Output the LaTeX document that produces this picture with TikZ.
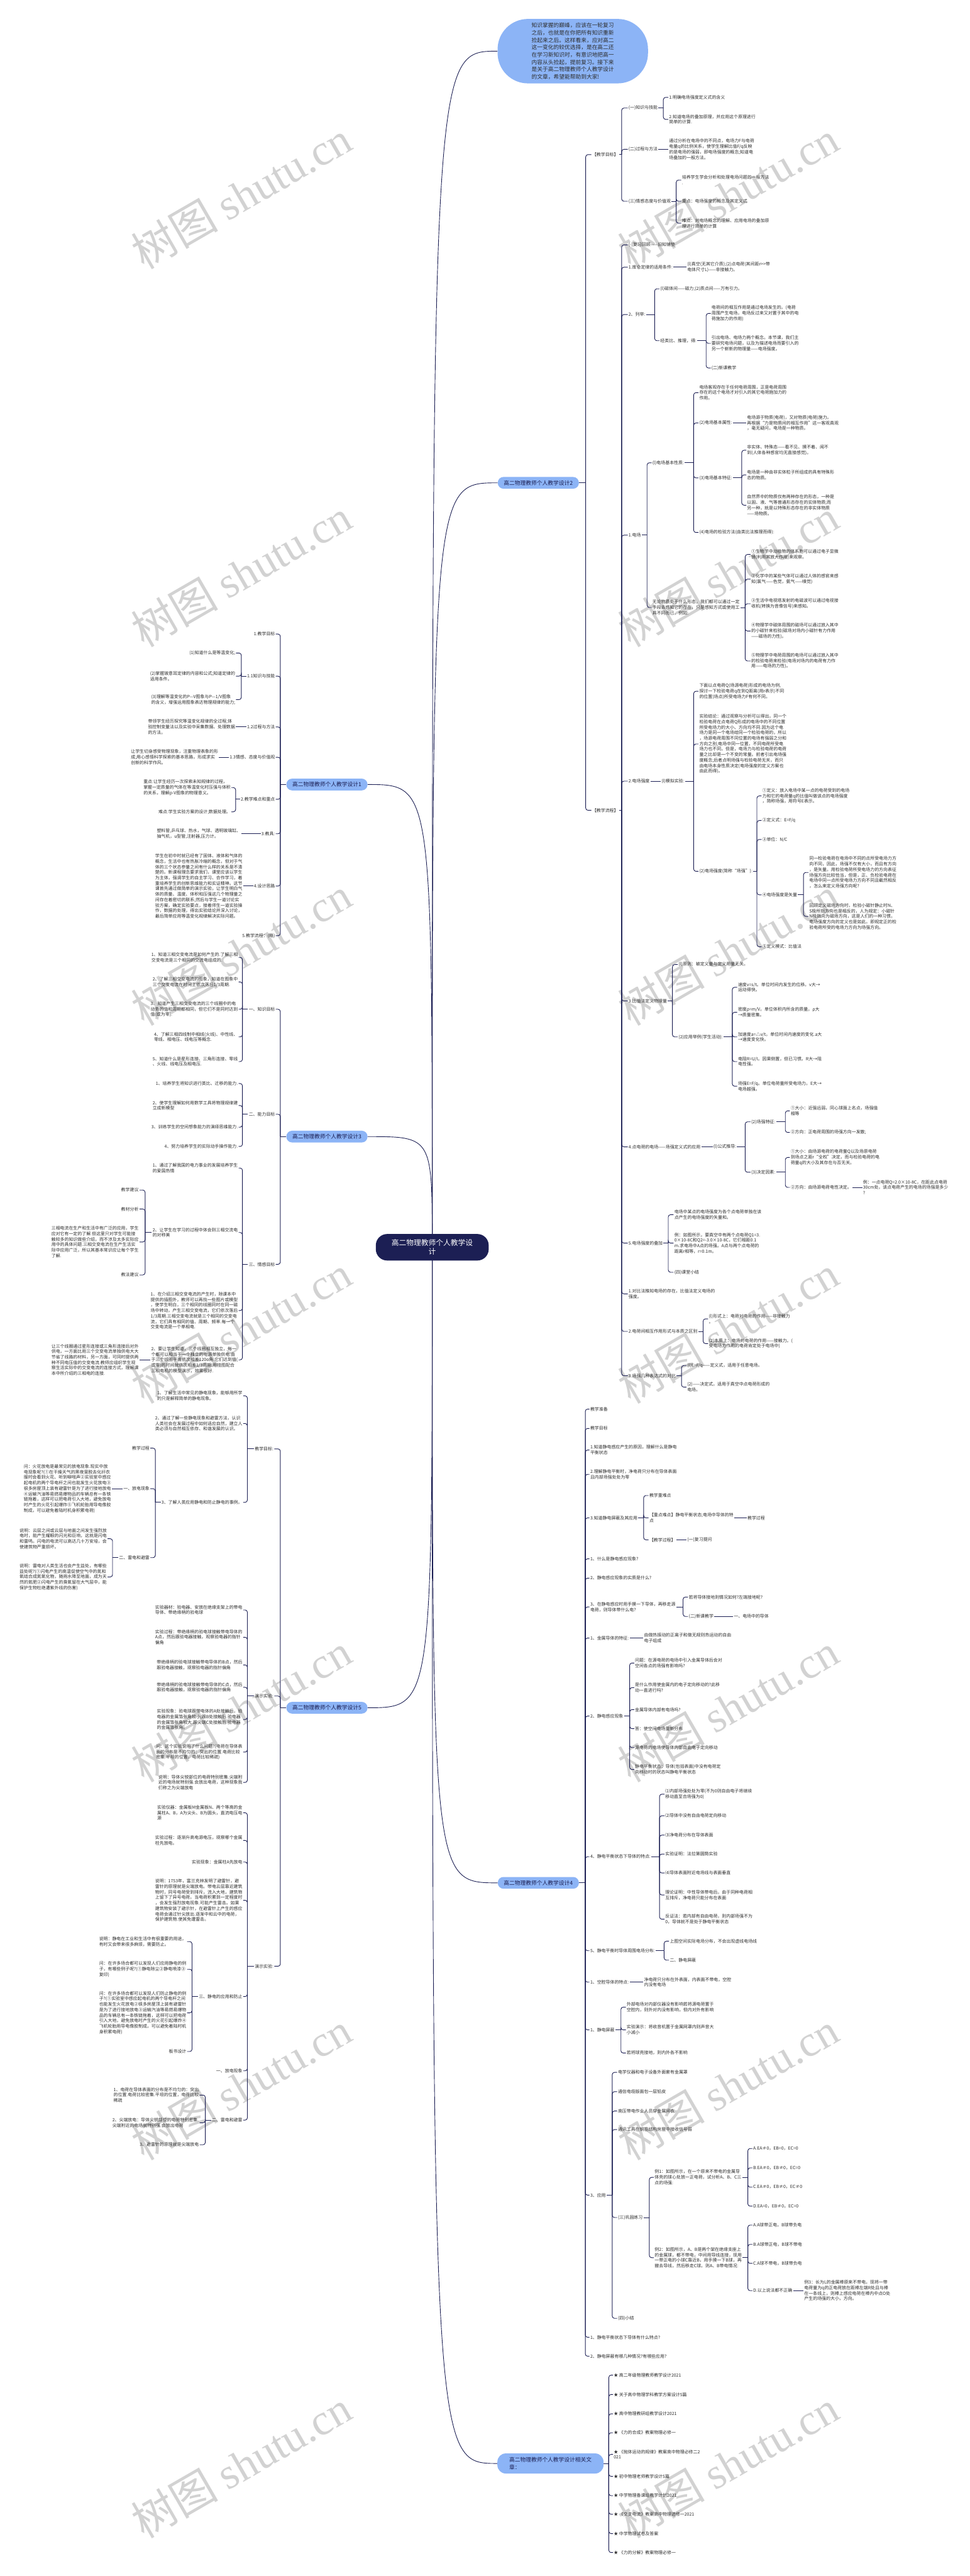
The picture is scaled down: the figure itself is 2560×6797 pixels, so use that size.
\documentclass[tikz,border=0pt]{standalone}
\usepackage{fontspec}
\setmainfont{Noto Sans CJK SC}
\newfontfamily\wmserif{Liberation Serif}
\usetikzlibrary{backgrounds}
\definecolor{navy}{RGB}{28,31,84}
\definecolor{lblue}{RGB}{140,180,246}
\definecolor{txtc}{RGB}{45,45,45}
\definecolor{wmc}{RGB}{210,210,210}
\tikzset{
  t/.style={font=\fontsize{11.5}{14.5}\selectfont, align=left, inner sep=2pt, text=txtc},
  tr/.style={t, anchor=west},
  tl/.style={t, anchor=east},
  conn/.style={draw=navy, line width=1.5pt},
  hook/.style={conn, rounded corners=6pt},
  lvone/.style={fill=lblue, rounded corners=15pt, font=\fontsize{14.5}{19}\selectfont, text=navy, inner xsep=16pt, inner ysep=0pt, minimum height=31pt},
  wm/.style={text=wmc, rotate=30, font=\fontsize{115}{115}\selectfont},
}
\newcommand\conR[3]{\draw[conn] (#1.east) -- (#1.east -| #2,0);
  \foreach \ch in {#3}{\draw[hook] (#1.east -| #2,0) |- (\ch.west);}}
\newcommand\conL[3]{\draw[conn] (#1.west) -- (#1.west -| #2,0);
  \foreach \ch in {#3}{\draw[hook] (#1.west -| #2,0) |- (\ch.east);}}
\newcommand\oneR[2]{\draw[conn] (#1.east) -- (#2.west);}
\newcommand\oneL[2]{\draw[conn] (#1.west) -- (#2.east);}
\begin{document}
\begin{tikzpicture}[x=1pt,y=-1pt]
\useasboundingbox (0,0) rectangle (2560,6797);
% ---------- root and level one ----------
\node[fill=navy, text=white, rounded corners=30pt, minimum width=298pt, minimum height=70pt, align=center, font=\fontsize{19.5}{24}\selectfont, inner sep=0pt] (root) at (1141,3291) {高二物理教师个人教学设\\计};
\node[fill=lblue, rounded corners=80pt, minimum width=397pt, minimum height=170pt, align=left, font=\fontsize{14.5}{19.4}\selectfont, text=txtc, inner sep=0pt] (bub) at (1512,135) {知识掌握的巅峰，应该在一轮复习\\之后，也就是在你把所有知识重新\\捡起来之后。这样看来，应对高二\\这一变化的较优选择，是在高二还\\在学习新知识时，有意识地把高一\\内容从头捡起，提前复习。接下来\\是关于高二物理教师个人教学设计\\的文章，希望能帮助到大家!};
\node[lvone] (n2) at (1421,1274) {高二物理教师个人教学设计2};
\node[lvone] (n4) at (1421,4968) {高二物理教师个人教学设计4};
\node[lvone, align=left, minimum width=280pt, minimum height=53pt, rounded corners=22pt] (nr) at (1453,6500) {高二物理教师个人教学设计相关文\\章：};
\node[lvone] (n1) at (863,2070) {高二物理教师个人教学设计1};
\node[lvone] (n3) at (863,2999) {高二物理教师个人教学设计3};
\node[lvone] (n5) at (863,4506) {高二物理教师个人教学设计5};
% ---------- design 2 ----------
\node[tr] (b1) at (1561,408) {【教学目标】};
\node[tr] (b2) at (1561,2138) {【教学流程】};
\node[tr] (b11) at (1657,285) {(一)知识与技能};
\node[tr] (b12) at (1657,394) {(二)过程与方法};
\node[tr] (b13) at (1657,531) {(三)情感态度与价值观};
\node[tr] (b111) at (1764,257) {1.明确电场强度定义式的含义};
\node[tr] (b112) at (1764,315) {2.知道电场的叠加原理，并应用这个原理进行\\简单的计算.};
\node[tr] (b121) at (1764,394) {通过分析在电场中的不同点，电场力F与电荷\\电量q的比例关系，使学生理解比值F/q反映\\的是电场的强弱，即电场强度的概念;知道电\\场叠加的一般方法。};
\node[tr] (b131) at (1798,475) {培养学生学会分析和处理电场问题的一般方法\\.};
\node[tr] (b132) at (1798,531) {重点：电场强度的概念及其定义式};
\node[tr] (b133) at (1798,589) {难点：对电场概念的理解、应用电场的叠加原\\理进行简单的计算};
\node[tr] (c1) at (1657,646) {(-)复习回顾——旧知铺垫};
\node[tr] (c2) at (1657,705) {1.库仑定律的适用条件:};
\node[tr] (c21) at (1812,705) {(l)真空(无其它介质);(2)点电荷(其间距r>{}>带\\电体尺寸L)——非接触力。};
\node[tr] (c3) at (1657,830) {2、列举:};
\node[tr] (c31) at (1741,762) {(l)磁体间——磁力;(2)质点间——万有引力。};
\node[tr] (c32) at (1741,899) {经类比、推理，得:};
\node[tr] (c321) at (1876,827) {电荷间的相互作用是通过电场发生的。(电荷\\周围产生电场，电场反过来又对置于其中的电\\荷施加力的作用)};
\node[tr] (c322) at (1876,906) {引出电场、电场力两个概念。本节课，我们主\\要研究电场问题，以及为描述电场而要引入的\\另一个崭新的物理量——电场强度。};
\node[tr] (c323) at (1876,971) {(二)新课教学};
\node[tr] (c4) at (1657,1412) {1.电场};
\node[tr] (c41) at (1720,1221) {(l)电场基本性质:};
\node[tr] (c411) at (1844,1036) {电场客观存在于任何电荷周围，正是电荷周围\\存在的这个电场才对引入的其它电荷施加力的\\作用。};
\node[tr] (c412) at (1844,1116) {(2)电场基本属性:};
\node[tr] (c4121) at (1970,1116) {电场源于物质(电荷)，又对物质(电荷)施力。\\再根据“力是物质间的相互作用”这一客观真观\\，毫无疑问，电场是一种物质。};
\node[tr] (c413) at (1844,1261) {(3)电场基本特征:};
\node[tr] (c4131) at (1970,1188) {非实体、特殊态——看不见、摸不着、闻不\\到(人体各种感官均无直接感觉)。};
\node[tr] (c4132) at (1970,1253) {电场是一种由非实体粒子所组成的具有特殊形\\态的物质。};
\node[tr] (c4133) at (1970,1333) {自然界中的物质仅有两种存在的形态，一种是\\以固、液、气等普通形态存在的实体物质;而\\另一种，就是以特殊形态存在的非实体物质\\——场物质。};
\node[tr] (c414) at (1844,1405) {(4)电场的检验方法(由类比法推理而得):};
\node[tr] (c42) at (1720,1603) {无论物质处于什么形态，我们都可以通过一定\\手段去感知它的存在，只是感知方式或使用工\\具不同而已，例如:};
\node[tr] (c421) at (1981,1463) {①生物学中动植物的体系胞可以通过电子显微\\镜(利用其放大作用)来观察。};
\node[tr] (c422) at (1981,1528) {②化学中的某些气体可以通过人体的感官来感\\知(氯气——色觉，氨气——嗅觉)};
\node[tr] (c423) at (1981,1593) {③生活中电视塔发射的电磁波可以通过电视接\\收机(转换为音像信号)来感知。};
\node[tr] (c424) at (1981,1665) {④物理学中磁体周围的磁场可以通过放入其中\\的小磁针来检验(磁场对场内小磁针有力作用\\——磁场的力性)。};
\node[tr] (c425) at (1981,1744) {⑤物理学中电荷周围的电场可以通过放入其中\\的检验电荷来检验(电场对场内的电荷有力作\\用——电场的力性)。};
\node[tr] (c5) at (1657,2061) {2.电场强度};
\node[tr] (c51) at (1744,2061) {(l)模拟实验:};
\node[tr] (c511) at (1844,1824) {下面以点电荷Q(场源电荷)形成的电场为例,\\探讨一下检验电荷q在到Q距离(用r表示)不同\\的位置(场点)所受电场力F有何不同。};
\node[tr] (c512) at (1844,1963) {实验结论：通过观察与分析可以得出，同一个\\检验电荷在点电荷Q形成的电场中的不同位置\\所受电场力的大小、方向均不同.因为这个电\\场力是同一个电场给同一个检验电荷的，所以\\，场源电荷周围不同位置的电场有强弱之分和\\方向之别;电场中同一位置，不同电荷所受电\\场力也不同，但是，电场力与检验电荷的电荷\\量之比却是一个不变的常量。前者引出电场强\\度概念;后者点明场强与检验电荷无关，而只\\由电场本身性质决定(电场强度的定义方案也\\由此而得)。};
\node[tr] (c513) at (1844,2299) {(2)电场强度(简称“场强”):};
\node[tr] (c5131) at (2010,2100) {①定义：放入电场中某一点的电荷受到的电场\\力和它的电荷量q的比值叫做该点的电场强度\\，简称场强，用符号E表示。};
\node[tr] (c5132) at (2010,2165) {②定义式：E=F/q};
\node[tr] (c5133) at (2010,2215) {③单位：N/C};
\node[tr] (c5134) at (2010,2361) {④电场强度是矢量};
\node[tr] (c51341) at (2134,2302) {同一检验电荷在电场中不同的点所受电场力方\\向不同，因此，场强不仅有大小，而且有方向\\，是矢量。用检验电荷所受电场力的方向表征\\场强方向比较恰当，但是，正、负检验电荷在\\电场中同一点所受电场力方向不同且截然相反\\，怎么来定义场强方向呢?};
\node[tr] (c51342) at (2134,2418) {回顾定义磁场方向时，检验小磁针静止时N、\\S极所指方向也是相反的，人为规定：小磁针\\N极指向为磁场方向，这是人们的一种习惯。\\电场强度方向的定义也是如此。即规定正的检\\验电荷所受的电场力方向为场强方向。};
\node[tr] (c5135) at (2010,2498) {⑤定义模式：比值法};
\node[tr] (c6) at (1657,2641) {3.比值法定义物理量};
\node[tr] (c61) at (1789,2545) {(l)原则：被定义量与定义用量无关。};
\node[tr] (c62) at (1789,2736) {(2)应用举例(学生活动):};
\node[tr] (c621) at (1946,2605) {速度v=s/t。单位时间内发生的位移。v大→\\运动得快。};
\node[tr] (c622) at (1946,2671) {密度ρ=m/V。单位体积内所含的质量。ρ大\\→质量密集。};
\node[tr] (c623) at (1946,2736) {加速度a=△v/t。单位时间内速度的变化.a大\\→速度变化快。};
\node[tr] (c624) at (1946,2801) {电阻R=U/I。因果倒置，但已习惯。R大→阻\\电性强。};
\node[tr] (c625) at (1946,2866) {场强E=F/q。单位电荷量所受电场力。E大→\\电场越强。};
\node[tr] (c7) at (1657,3026) {4.点电荷的电场——场强定义式的应用};
\node[tr] (c71) at (1881,3026) {(l)公式推导:};
\node[tr] (c711) at (1981,2960) {(2)场强特征:};
\node[tr] (c7111) at (2085,2931) {①大小：近强远弱，同心球面上名点，场强值\\相等};
\node[tr] (c7112) at (2085,2988) {②方向：正电荷周围的场强方向一发散;};
\node[tr] (c712) at (1981,3093) {(3)决定因素:};
\node[tr] (c7121) at (2085,3054) {①大小：由场源电荷的电荷量Q以及场原电荷\\到场点之距r“全权”决定，而与检验电荷的电\\荷量q的大小及其存在与否无关。};
\node[tr] (c7122) at (2085,3133) {②方向：由场源电荷电性决定。};
\node[tr] (c71221) at (2276,3133) {例：一点电荷Q=2.0×10-8C，在距此点电荷\\30cm处，该点电荷产生的电场的场强是多少\\?};
\node[tr] (c8) at (1657,3280) {5.电场强度的叠加};
\node[tr] (c81) at (1778,3205) {电场中某点的电场强度为各个点电荷单独在该\\点产生的电场强度的矢量和。};
\node[tr] (c82) at (1778,3280) {例：如图所示，要真空中有两个点电荷Q1=3.\\0×10-8C和Q2=-3.0×10-8C，它们相距0.1\\m.求电场中A点的场强。A点与两个点电荷的\\距离r相等，r=0.1m。};
\node[tr] (c83) at (1778,3357) {(四)课堂小结};
\node[tr] (c9) at (1657,3414) {1.对比法推知电场的存在，比值法定义电场的\\强度。};
\node[tr] (c10) at (1657,3513) {2.电荷间相互作用形式与本质之区别};
\node[tr] (c101) at (1869,3480) {(l)形式上：电荷对电荷的作用——非接触力\\。};
\node[tr] (c102) at (1869,3545) {(2)本质上：电场对电荷的作用——接触力。(\\受电场力作用的电荷肯定处于电场中)};
\node[tr] (c11) at (1657,3630) {3.场强几种表达式的对比};
\node[tr] (c111) at (1812,3603) {(l)E=F/q——定义式，适用于任意电场。};
\node[tr] (c112) at (1812,3660) {(2)——决定式，适用于真空中点电荷形成的\\电场。};
% ---------- design 4 ----------
\node[tr] (d1) at (1556,3718) {教学准备};
\node[tr] (d2) at (1556,3769) {教学目标};
\node[tr] (d3) at (1556,3826) {1.知道静电感应产生的原因，理解什么是静电\\平衡状态};
\node[tr] (d4) at (1556,3890) {2.理解静电平衡时，净电荷只分布在导体表面\\且内部场强处处为零};
\node[tr] (d5) at (1556,4005) {3.知道静电屏蔽及其应用};
\node[tr] (d51) at (1712,3946) {教学重难点};
\node[tr] (d52) at (1712,4005) {【重点难点】静电平衡状态;电场中导体的特\\点};
\node[tr] (d521) at (1971,4005) {教学过程};
\node[tr] (d53) at (1712,4063) {【教学过程】};
\node[tr] (d531) at (1812,4063) {(一)复习提问};
\node[tr] (d6) at (1556,4113) {1、什么是静电感应现象?};
\node[tr] (d7) at (1556,4164) {2、静电感应现象的实质是什么?};
\node[tr] (d8) at (1556,4240) {3、在静电感应时用手摸一下导体，再移走源\\电荷，则导体带什么电?};
\node[tr] (d81) at (1816,4214) {若将导体接地则情况如何?左端接地呢?};
\node[tr] (d82) at (1816,4265) {(二)新课教学};
\node[tr] (d821) at (1935,4265) {一、电场中的导体};
\node[tr] (d9) at (1556,4322) {1、金属导体的特征:};
\node[tr] (d91) at (1698,4322) {由做热振动的正离子和做无规则热运动的自由\\电子组成};
\node[tr] (d10) at (1556,4528) {2、静电感应现象};
\node[tr] (d101) at (1674,4388) {问题：在源电荷的电场中引入金属导体后会对\\空间各点的场强有影响吗?};
\node[tr] (d102) at (1674,4453) {是什么作用使金属内的电子定向移动的?此移\\动一直进行吗?};
\node[tr] (d103) at (1674,4511) {金属导体内部有电场吗?};
\node[tr] (d104) at (1674,4561) {答：使空间电场重新分布};
\node[tr] (d105) at (1674,4611) {源电荷的电场使导体内部自由电子定向移动};
\node[tr] (d106) at (1674,4669) {静电平衡状态：导体(包括表面)中没有电荷定\\向移动时的状态叫静电平衡状态};
\node[tr] (d11) at (1556,4899) {4、静电平衡状态下导体的特点:};
\node[tr] (d111) at (1754,4734) {⑴内部场强处处为零(不为0则自由电子将继续\\移动直至合场强为0)};
\node[tr] (d112) at (1754,4791) {⑵导体中没有自由电荷定向移动};
\node[tr] (d113) at (1754,4842) {⑶净电荷分布在导体表面};
\node[tr] (d114) at (1754,4892) {实验证明：法拉第圆筒实验};
\node[tr] (d115) at (1754,4942) {⑷导体表面附近电场线与表面垂直};
\node[tr] (d116) at (1754,5000) {理论证明：中性导体带电后，由于同种电荷相\\互排斥，净电荷只能分布在表面};
\node[tr] (d117) at (1754,5064) {反证法：若内部有自由电荷，则内部场强不为\\0，导体就不是处于静电平衡状态};
\node[tr] (d12) at (1556,5147) {5、静电平衡时导体周围电场分布:};
\node[tr] (d121) at (1766,5122) {上图空间实际电场分布，不会出现虚线电场线};
\node[tr] (d122) at (1766,5172) {二、静电屏蔽};
\node[tr] (d13) at (1556,5230) {1、空腔导体的特点:};
\node[tr] (d131) at (1698,5230) {净电荷只分布在外表面，内表面不带电，空腔\\内没有电场};
\node[tr] (d14) at (1556,5356) {1、静电屏蔽};
\node[tr] (d141) at (1652,5296) {外部电场对内部仪器没有影响若将源电荷置于\\空腔内，则外对内没有影响，但内对外有影响};
\node[tr] (d142) at (1652,5356) {实验演示：将收音机置于金属网罩内则声音大\\小减小};
\node[tr] (d143) at (1652,5417) {若将球壳接地，则内外各不影响};
\node[tr] (d15) at (1556,5792) {3、应用};
\node[tr] (d151) at (1629,5468) {电学仪器和电子设备外面套有金属罩};
\node[tr] (d152) at (1629,5519) {通信电缆版面包一层铅皮};
\node[tr] (d153) at (1629,5570) {高压带电作业人员穿金属网衣};
\node[tr] (d154) at (1629,5619) {通讯工具在钢筋结构房屋中接收信号弱};
\node[tr] (d155) at (1629,5851) {(三)巩固练习};
\node[tr] (d1551) at (1726,5745) {例1：如图所示，在一个原来不带电的金属导\\体壳的球心处放一正电荷，试分析A、B、C三\\点的场强:};
\node[tr] (d15511) at (1986,5669) {A.EA≠0，EB=0，EC=0};
\node[tr] (d15512) at (1986,5720) {B.EA≠0，EB≠0，EC=0};
\node[tr] (d15513) at (1986,5771) {C.EA≠0，EB≠0，EC≠0};
\node[tr] (d15514) at (1986,5821) {D.EA=0，EB≠0，EC=0};
\node[tr] (d1552) at (1726,5957) {例2：如图所示，A、B是两个架在绝缘支座上\\的金属球，都不带电，中间用导线连接，现用\\一带正电的小球C靠近B，用手摸一下B球，再\\撤去导线，然后移走C球。则A、B带电情况:};
\node[tr] (d15521) at (1986,5871) {A.A球带正电，B球带负电};
\node[tr] (d15522) at (1986,5922) {B.A球带正电，B球不带电};
\node[tr] (d15523) at (1986,5972) {C.A球不带电，B球带负电};
\node[tr] (d15524) at (1986,6044) {D.以上说法都不正确};
\node[tr] (d155241) at (2121,6044) {例3：长为L的金属棒原来不带电，现将一带\\电荷量为q的正电荷放在距棒左端R处且与棒\\在一条线上，则棒上感应电荷在棒内中点O处\\产生的场强的大小，方向。};
\node[tr] (d156) at (1629,6117) {(四)小结};
\node[tr] (d16) at (1556,6167) {1、静电平衡状态下导体有什么特点?};
\node[tr] (d17) at (1556,6217) {2、静电屏蔽有哪几种情况?有哪些应用?};
% ---------- related ----------
\node[tr] (r1) at (1618,6267) {★ 高二年级物理教师教学设计2021};
\node[tr] (r2) at (1618,6318) {★ 关于高中物理学科教学方案设计5篇};
\node[tr] (r3) at (1618,6369) {★ 高中物理教研组教学设计2021};
\node[tr] (r4) at (1618,6419) {★ 《力的合成》教案物理必修一};
\node[tr] (r5) at (1618,6476) {★ 《抛体运动的规律》教案高中物理必修二2\\021};
\node[tr] (r6) at (1618,6534) {★ 初中物理老师教学设计5篇};
\node[tr] (r7) at (1618,6585) {★ 中学物理备课组教学计划2021};
\node[tr] (r8) at (1618,6634) {★ 《交变电流》教案高中物理选修一2021};
\node[tr] (r9) at (1618,6685) {★ 中学物理试卷及答案};
\node[tr] (r10) at (1618,6735) {★ 《力的分解》教案物理必修一};
% ---------- design 1 ----------
\node[tl] (e1) at (728,1673) {1.教学目标};
\node[tl] (e2) at (728,1784) {1.1知识与技能};
\node[tl] (e21) at (623,1723) {(1)知道什么是等温变化;};
\node[tl] (e22) at (623,1784) {(2)掌握玻意耳定律的内容和公式;知道定律的\\适用条件。};
\node[tl] (e23) at (623,1846) {(3)理解等温变化的P—V图象与P—1/V图象\\的含义，增强运用图象表达物理规律的能力;};
\node[tl] (e3) at (728,1918) {1.2过程与方法};
\node[tl] (e31) at (623,1918) {带领学生经历探究等温变化规律的全过程,体\\验控制变量法以及实验中采集数据、处理数据\\的方法。};
\node[tl] (e4) at (728,1998) {1.3情感、态度与价值观};
\node[tl] (e41) at (578,1998) {让学生切身感受物理现象，注重物理表象的形\\成;用心感悟科学探索的基本思路，形成求实\\创新的科学作风。};
\node[tl] (e5) at (728,2109) {2.教学难点和重点};
\node[tl] (e51) at (611,2078) {重点:让学生经历一次探索未知规律的过程，\\掌握一定质量的气体在等温变化时压强与体积\\的关系，理解p-V图象的物理意义。};
\node[tl] (e52) at (611,2142) {难点:学生实验方案的设计;数据处理。};
\node[tl] (e6) at (728,2200) {3.教具:};
\node[tl] (e61) at (638,2200) {塑料管,乒乓球、热水，气球、透明玻璃缸、\\抽气机，u型管,注射器,压力计。};
\node[tl] (e7) at (728,2338) {4.设计思路};
\node[tl] (e71) at (642,2338) {学生在初中时就已经有了固体、液体和气体的\\概念，生活中也有热胀冷缩的概念，但对于气\\体的三个状态参量之间有什么样的关系是不清\\楚的。新课程理念要求我们，课堂应该以学生\\为主体，强调学生的自主学习、合作学习，着\\重培养学生的创新思维能力和实证精神。这节\\课首先通过做简单的演示实验，让学生明白气\\体的质量、温度、体积和压强这几个物理量之\\间存在着密切的联系;然后与学生一道讨论实\\验方案，确定实验要点，接着师生一道实验操\\作，数据的处理，得出实验结论并深入讨论，\\最后简单应用等温变化规律解决实际问题。};
\node[tl] (e8) at (728,2469) {5.教学流程：(略)};
% ---------- design 3 ----------
\node[tl] (f1) at (728,2663) {一、知识目标};
\node[tl] (f11) at (630,2526) {1、知道三相交变电流是如何产生的.了解三相\\交变电流是三个相同的交流电组成的.};
\node[tl] (f12) at (630,2591) {2、了解三相交变电流的图象，知道在图象中\\三个交变电流在时间上依次落后1/3周期.};
\node[tl] (f13) at (630,2663) {3、知道产生三相交变电流的三个线圈中的电\\动势的值和周期都相同，但它们不是同时达到\\值(或为零).};
\node[tl] (f14) at (630,2736) {4、了解三相四线制中相线(火线)、中性线、\\零线、相电压、线电压等概念.};
\node[tl] (f15) at (630,2801) {5、知道什么是星形连接、三角形连接、零线\\、火线、线电压及相电压.};
\node[tl] (f2) at (728,2940) {二、能力目标};
\node[tl] (f21) at (630,2859) {1、培养学生将知识进行类比、迁移的能力.};
\node[tl] (f22) at (630,2917) {2、使学生理解如何用数学工具将物理规律建\\立成新模型};
\node[tl] (f23) at (630,2974) {3、训练学生的空间想象能力的演绎思维能力.};
\node[tl] (f24) at (630,3025) {4、努力培养学生的实际动手操作能力.};
\node[tl] (f3) at (728,3336) {三、情感目标};
\node[tl] (f31) at (630,3082) {1、通过了解我国的电力事业的发展培养学生\\的爱国热情};
\node[tl] (f32) at (630,3252) {2、让学生在学习的过程中体会到三相交流电\\的对称美};
\node[tl] (f321) at (368,3140) {教学建议};
\node[tl] (f322) at (368,3190) {教材分析};
\node[tl] (f323) at (368,3277) {三相电流在生产和生活中有广泛的应用，学生\\应对它有一定的了解.但这里只对学生可能接\\触较多的知识做些介绍，而不涉及太多实际应\\用中的具体问题.三相交变电流在生产生活实\\际中应用广泛，所以其基本常识应让每个学生\\了解.};
\node[tl] (f324) at (368,3364) {教法建议};
\node[tl] (f33) at (630,3458) {1、在介绍三相交变电流的产生时，除课本中\\提供的插图外，教师可以再找一些图片或模型\\，使学生明白，三个相同的线圈同时在同一磁\\场中转动，产生三相交变电流，它们依次落后\\1/3周期.三相交变电流就是三个相同的交变电\\流，它们具有相同的值、周期、频率.每一个\\交变电流是一个单相电.};
\node[tl] (f34) at (630,3588) {2、要让学生知道，三个线圈相互独立，每一\\个都可以相当于一个独立的电源单独供电.由\\于三个线圈平面依次相差120o角.它们达到值(\\或零)的时间就依次相差1/3周期.用挂图配合\\三相电机的模型演示，效果很好.};
\node[tl] (f341) at (368,3588) {让三个线圈通过星形连接或三角形连接后对外\\供电，一方面比用三个交变电流单独供电大大\\节省了线路的材料，另一方面，可同时提供两\\种不同电压值的交变电流.教师应组织学生观\\察生活实际中的交变电流的连接方式，理解课\\本中所介绍的三相电的连接.};
% ---------- design 5 ----------
\node[tl] (g1) at (724,3823) {教学目标:};
\node[tl] (g11) at (642,3683) {1、了解生活中常见的静电现象，能够用所学\\的只是解释简单的静电现象。};
\node[tl] (g12) at (642,3756) {2、通过了解一些静电现象和避雷方法，认识\\人类社会在发展过程中如何适应自然，建立人\\类必须与自然相互依存、和谐发展的认识。};
\node[tl] (g13) at (642,3964) {3、了解人类应用静电和防止静电的事例。};
\node[tl] (g131) at (397,3821) {教学过程};
\node[tl] (g132) at (397,3928) {一、放电现象};
\node[tl] (g1321) at (295,3928) {问：火花放电是最常见的放电现象.现实中放\\电现象呢?(①在干燥天气的黑夜里脱去化纤衣\\服时会看到火花、听到噼啪声②实验室中感应\\起电机的两个导电杆之间也能发生火花放电③\\很多房屋顶上装有避雷针是为了进行接地放电\\④运输汽油等易燃易爆物品的车辆总有一条铁\\链拖着，这样可以把电荷引入大地，避免放电\\时产生的火花引起爆炸⑤飞机轮胎用导电像胶\\制成，可以避免着陆时机身积累电荷)};
\node[tl] (g133) at (397,4110) {二、雷电和避雷};
\node[tl] (g1331) at (284,4060) {说明：云层之间或云层与地面之间发生强烈放\\电时，能产生耀眼的闪光和巨响，这就是闪电\\和雷鸣。闪电的电流可以高达几十万安培，会\\使建筑物严重损坏。};
\node[tl] (g1332) at (284,4161) {说明：雷电对人类生活也会产生益处，有哪些\\益处呢?(①闪电产生的高温促使空气中的氮和\\氧结合成氮氧化物，随雨水降至地面，成为天\\然的氮肥②闪电产生的臭氧留在大气层中，能\\保护生物杜绝遭紫外线的伤害)};
\node[tl] (g2) at (724,4475) {演示实验:};
\node[tl] (g21) at (642,4248) {实验器材：验电器、安放在绝缘支架上的带电\\导体、带绝缘柄的验电球};
\node[tl] (g22) at (642,4320) {实验过程：带绝缘柄的验电球接触带电导体的\\A点，然后跟验电器接触，观察验电器的指针\\偏角};
\node[tl] (g23) at (642,4393) {带绝缘柄的验电球接触带电导体的B点，然后\\跟验电器接触，观察验电器的指针偏角};
\node[tl] (g24) at (642,4452) {带绝缘柄的验电球接触带电导体的C点，然后\\跟验电器接触，观察验电器的指针偏角};
\node[tl] (g25) at (642,4537) {实验现象：验电球跟带电体的A处接触后，验\\电器的金属箔张角较小;跟B处接触后.验电器\\的金属箔张角较大.跟尖端C处接触后.验电器\\的金属箔张角。};
\node[tl] (g26) at (642,4623) {问：这个实验说明了什么问题?(电荷在导体表\\面的分布是不均匀的：突出的位置.电荷比较\\密集.平坦的位置，电荷比较稀疏)};
\node[tl] (g27) at (642,4703) {说明：导体尖锐部位的电荷特别密集.尖端附\\近的电场就特别强.会放出电荷，这种现象我\\们称之为尖端放电};
\node[tl] (g3) at (724,5188) {演示实验:};
\node[tl] (g31) at (642,4783) {实验仪器：金属板M金属板N、两个等高的金\\属柱A、B，A为尖头、B为圆头，直流电压电\\源};
\node[tl] (g32) at (642,4856) {实验过程：逐渐升高电源电压，观察哪个金属\\柱先放电。};
\node[tl] (g33) at (642,4913) {实验现象：金属柱A先放电};
\node[tl] (g34) at (642,5014) {说明：1753年，富兰克林发明了避雷针，避\\雷针的原理就是尖端放电。带电云层靠近建筑\\物时，同号电荷受到排斥，流入大地，建筑物\\上留下了异号电荷。当电荷积累到一定程度时\\，会发生强烈放电现象.可能产生雷击。如果\\建筑物安装了避示针，在避雷针上产生的感应\\电荷会通过针尖放出.逐渐中和云中的电荷，\\保护建筑物.使其免遭雷击。};
\node[tl] (g35) at (642,5268) {三、静电的应用和防止};
\node[tl] (g351) at (494,5123) {说明：静电在工业和生活中有很重要的用途，\\有时又会带来很多麻烦，需要防止。};
\node[tl] (g352) at (494,5196) {问：在许多场合都可以发现人们应用静电的例\\子，有哪些例子呢?(①静电除尘②静电喷漆③\\复印)};
\node[tl] (g353) at (494,5311) {问：在许多场合都可以发现人们防止静电的例\\子?(①实验室中感应起电机的两个导电杆之间\\也能发生火花放电②很多房屋顶上装有避雷针\\是为了进行接地放电③运输汽油等易燃易爆物\\品的车辆总有一条铁链拖着，这样可以把电荷\\引入大地，避免放电时产生的火花引起爆炸④\\飞机轮胎用导电像胶制成，可以避免着陆时机\\身积累电荷)};
\node[tl] (g354) at (494,5413) {板书设计};
\node[tl] (g36) at (642,5464) {一、放电现象};
\node[tl] (g37) at (642,5594) {二、雷电和避雷};
\node[tl] (g371) at (527,5528) {1、电荷在导体表面的分布是不均匀的：突出\\的位置.电荷比较密集.平坦的位置，电荷比较\\稀疏};
\node[tl] (g372) at (527,5601) {2、尖端放电：导体尖锐部位的电荷特别密集.\\尖端附近的电场就特别强.会放出电荷};
\node[tl] (g373) at (527,5659) {3、避雷针的原理就是尖端放电};
% ---------- background: watermark and connectors ----------
\begin{pgfonlayer}{background}
\fill[white] (0,0) rectangle (2560,6797);
\foreach \k in {0,...,6}{
  \node[wm] at (637,514+998*\k) {树图 {\wmserif shutu.cn}};
  \node[wm] at (1922,514+998*\k) {树图 {\wmserif shutu.cn}};
}
\foreach \nn in {bub,n2,n4,nr}{\draw[conn] (root.center) .. controls (root.center |- \nn.west) .. (\nn.west);}
\foreach \nn in {n1,n3,n5}{\draw[conn] (root.center) .. controls (root.center |- \nn.east) .. (\nn.east);}
% design 2
\conR{n2}{1546}{b1,b2}
\conR{b1}{1641}{b11,b12,b13}
\conR{b11}{1751}{b111,b112}
\oneR{b12}{b121}
\conR{b13}{1785}{b131,b132,b133}
\conR{b2}{1641}{c1,c2,c3,c4,c5,c6,c7,c8,c9,c10,c11}
\oneR{c2}{c21}
\conR{c3}{1728}{c31,c32}
\conR{c32}{1864}{c321,c322,c323}
\conR{c4}{1708}{c41,c42}
\conR{c41}{1831}{c411,c412,c413,c414}
\oneR{c412}{c4121}
\conR{c413}{1958}{c4131,c4132,c4133}
\conR{c42}{1967}{c421,c422,c423,c424,c425}
\oneR{c5}{c51}
\conR{c51}{1831}{c511,c512,c513}
\conR{c513}{1998}{c5131,c5132,c5133,c5134,c5135}
\conR{c5134}{2121}{c51341,c51342}
\conR{c6}{1775}{c61,c62}
\conR{c62}{1933}{c621,c622,c623,c624,c625}
\oneR{c7}{c71}
\conR{c71}{1967}{c711,c712}
\conR{c711}{2073}{c7111,c7112}
\conR{c712}{2073}{c7121,c7122}
\oneR{c7122}{c71221}
\conR{c8}{1764}{c81,c82,c83}
\conR{c10}{1856}{c101,c102}
\conR{c11}{1799}{c111,c112}
% design 4
\conR{n4}{1545}{d1,d2,d3,d4,d5,d6,d7,d8,d9,d10,d11,d12,d13,d14,d15,d16,d17}
\conR{d5}{1699}{d51,d52,d53}
\oneR{d52}{d521}
\oneR{d53}{d531}
\conR{d8}{1803}{d81,d82}
\oneR{d82}{d821}
\oneR{d9}{d91}
\conR{d10}{1662}{d101,d102,d103,d104,d105,d106}
\conR{d11}{1741}{d111,d112,d113,d114,d115,d116,d117}
\conR{d12}{1753}{d121,d122}
\oneR{d13}{d131}
\conR{d14}{1639}{d141,d142,d143}
\conR{d15}{1616}{d151,d152,d153,d154,d155,d156}
\conR{d155}{1714}{d1551,d1552}
\conR{d1551}{1974}{d15511,d15512,d15513,d15514}
\conR{d1552}{1974}{d15521,d15522,d15523,d15524}
\oneR{d15524}{d155241}
% related
\conR{nr}{1607}{r1,r2,r3,r4,r5,r6,r7,r8,r9,r10}
% design 1
\conL{n1}{740}{e1,e2,e3,e4,e5,e6,e7,e8}
\conL{e2}{637}{e21,e22,e23}
\oneL{e3}{e31}
\oneL{e4}{e41}
\conL{e5}{622}{e51,e52}
\oneL{e6}{e61}
\oneL{e7}{e71}
% design 3
\conL{n3}{740}{f1,f2,f3}
\conL{f1}{640}{f11,f12,f13,f14,f15}
\conL{f2}{640}{f21,f22,f23,f24}
\conL{f3}{640}{f31,f32,f33,f34}
\conL{f32}{383}{f321,f322,f323,f324}
\oneL{f34}{f341}
% design 5
\conL{n5}{740}{g1,g2,g3}
\conL{g1}{653}{g11,g12,g13}
\conL{g13}{410}{g131,g132,g133}
\oneL{g132}{g1321}
\conL{g133}{297}{g1331,g1332}
\conL{g2}{653}{g21,g22,g23,g24,g25,g26,g27}
\conL{g3}{653}{g31,g32,g33,g34,g35,g36,g37}
\conL{g35}{507}{g351,g352,g353,g354}
\conL{g37}{542}{g371,g372,g373}
\end{pgfonlayer}
\end{tikzpicture}
\end{document}
